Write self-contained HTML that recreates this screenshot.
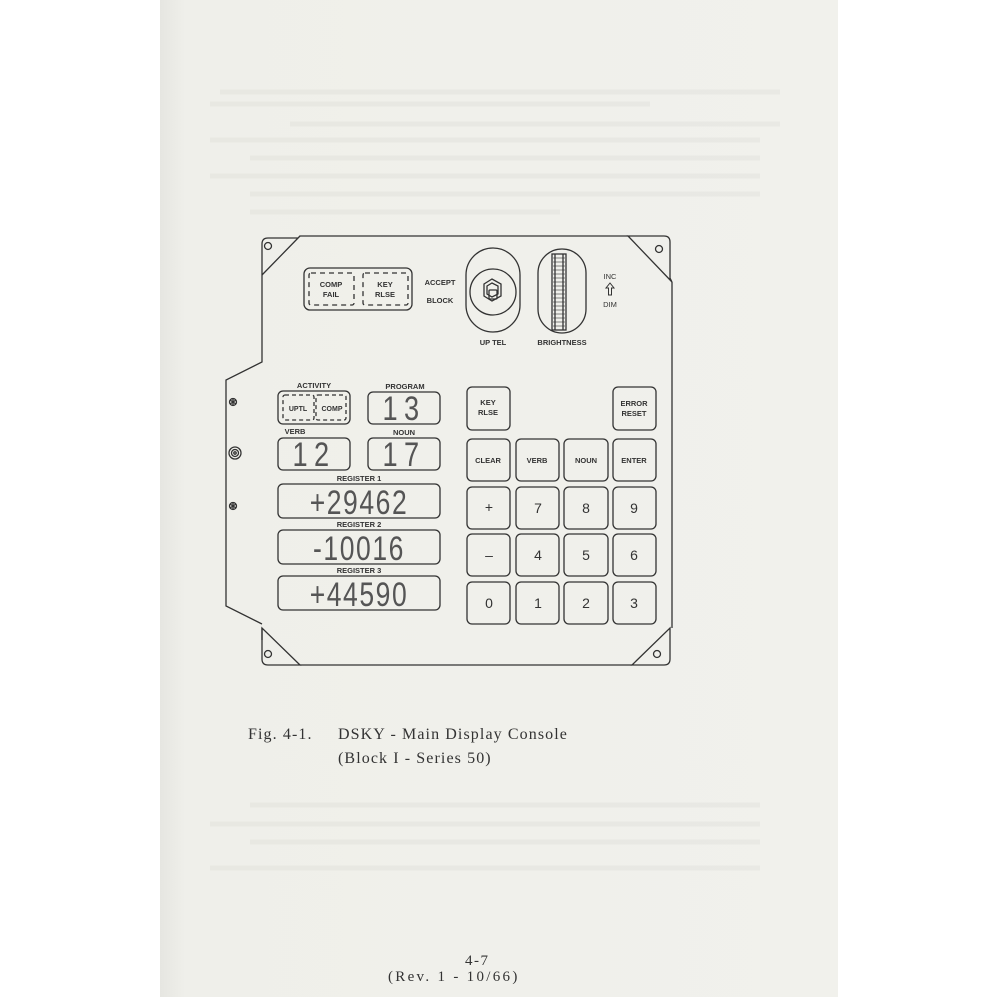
<!DOCTYPE html>
<html><head><meta charset="utf-8"><style>
html,body{margin:0;padding:0;background:#fff;}
body{width:1000px;height:1000px;position:relative;overflow:hidden;}
.paper{position:absolute;left:160px;top:0;width:678px;height:997px;background:linear-gradient(90deg,#e6e6e1 0px,#efefea 25px,#f1f1ec 100%);}
svg{position:absolute;left:0;top:0;}
.cap{position:absolute;font-family:"Liberation Serif",serif;font-size:16px;color:#333;white-space:pre;letter-spacing:1.1px;}
</style></head><body>
<div class="paper"></div>
<svg width="1000" height="1000" viewBox="0 0 1000 1000" font-family="Liberation Sans, sans-serif">
<g fill="none" stroke="#dcdcd6" stroke-width="5" opacity="0.35">
<line x1="220" y1="92" x2="780" y2="92"/><line x1="210" y1="104" x2="650" y2="104"/>
<line x1="290" y1="124" x2="780" y2="124"/><line x1="210" y1="140" x2="760" y2="140"/>
<line x1="250" y1="158" x2="760" y2="158"/><line x1="210" y1="176" x2="760" y2="176"/>
<line x1="250" y1="194" x2="760" y2="194"/><line x1="250" y1="212" x2="560" y2="212"/>
<line x1="250" y1="805" x2="760" y2="805"/><line x1="210" y1="824" x2="760" y2="824"/>
<line x1="250" y1="842" x2="760" y2="842"/><line x1="210" y1="868" x2="760" y2="868"/>
</g>
<g fill="none" stroke="#333" stroke-width="1.3">
<path d="M300,236 L628,236 M672,282 L672,628 M632,665 L300,665 M262,628 L262,640 M262,624 L226,606 L226,380 L262,362 L262,275"/>
<path d="M262,275 L262,244 Q262,238 268,238 L298,238 L300,236 L262,275"/>
<path d="M628,236 L664,236 Q670,236 670,242 L670,278 L672,282 Z"/>
<path d="M632,665 L664,665 Q670,665 670,659 L670,628 Z"/>
<path d="M300,665 L268,665 Q262,665 262,659 L262,628 Z"/>
<circle cx="268" cy="246" r="3.5"/><circle cx="659" cy="249" r="3.5"/>
<circle cx="657" cy="654" r="3.5"/><circle cx="268" cy="654" r="3.5"/>
<circle cx="233" cy="402" r="3.5"/><path d="M230,400 L236,404 M236,400 L230,404 M233,398 L233,406"/>
<circle cx="235" cy="453" r="6"/><circle cx="235" cy="453" r="3.5"/><circle cx="235" cy="453" r="1.2"/>
<circle cx="233" cy="506" r="3.5"/><path d="M230,504 L236,508 M236,504 L230,508 M233,502 L233,510"/>
<rect x="304" y="268" width="108" height="42" rx="6"/>
<rect x="309" y="273" width="45" height="32" rx="2" stroke-dasharray="5,4"/>
<rect x="363" y="273" width="45" height="32" rx="2" stroke-dasharray="5,4"/>
<rect x="466" y="248" width="54" height="84" rx="27"/>
<circle cx="493" cy="292" r="23"/>
<polygon points="484,284 492,279 501,284 501,296 492,301 484,296"/>
<polygon points="487,286 492,283 498,286 498,294 492,297 487,294"/>
<rect x="489" y="290" width="8" height="9" rx="1"/>
<rect x="538" y="249" width="48" height="84" rx="24"/>
<rect x="552" y="254" width="14" height="76"/>
<path d="M555,254 L555,330 M563,254 L563,330"/>
<path d="M610,283 L606,288 L608.5,288 L608.5,295 L611.5,295 L611.5,288 L614,288 Z" stroke-width="1"/>
<rect x="278" y="391" width="72" height="33" rx="5"/>
<rect x="283" y="395" width="31" height="25" rx="2" stroke-dasharray="4,3"/>
<rect x="316" y="395" width="30" height="25" rx="2" stroke-dasharray="4,3"/>
<rect x="368" y="392" width="72" height="32" rx="5"/>
<rect x="278" y="438" width="72" height="32" rx="5"/>
<rect x="368" y="438" width="72" height="32" rx="5"/>
<rect x="278" y="484" width="162" height="34" rx="5"/>
<rect x="278" y="530" width="162" height="34" rx="5"/>
<rect x="278" y="576" width="162" height="34" rx="5"/>
<rect x="467" y="387" width="43" height="43" rx="5"/>
<rect x="613" y="387" width="43" height="43" rx="5"/>
<g>
<rect x="467" y="439" width="43" height="42" rx="5"/><rect x="516" y="439" width="43" height="42" rx="5"/><rect x="564" y="439" width="44" height="42" rx="5"/><rect x="613" y="439" width="43" height="42" rx="5"/>
<rect x="467" y="487" width="43" height="42" rx="5"/><rect x="516" y="487" width="43" height="42" rx="5"/><rect x="564" y="487" width="44" height="42" rx="5"/><rect x="613" y="487" width="43" height="42" rx="5"/>
<rect x="467" y="534" width="43" height="42" rx="5"/><rect x="516" y="534" width="43" height="42" rx="5"/><rect x="564" y="534" width="44" height="42" rx="5"/><rect x="613" y="534" width="43" height="42" rx="5"/>
<rect x="467" y="582" width="43" height="42" rx="5"/><rect x="516" y="582" width="43" height="42" rx="5"/><rect x="564" y="582" width="44" height="42" rx="5"/><rect x="613" y="582" width="43" height="42" rx="5"/>
</g>
</g>
<g fill="#333" stroke="none">
<g stroke="#333" stroke-width="0.6">
<line x1="553" y1="258" x2="565" y2="258"/><line x1="553" y1="262" x2="565" y2="262"/><line x1="553" y1="266" x2="565" y2="266"/><line x1="553" y1="270" x2="565" y2="270"/><line x1="553" y1="274" x2="565" y2="274"/><line x1="553" y1="278" x2="565" y2="278"/><line x1="553" y1="282" x2="565" y2="282"/><line x1="553" y1="286" x2="565" y2="286"/><line x1="553" y1="290" x2="565" y2="290"/><line x1="553" y1="294" x2="565" y2="294"/><line x1="553" y1="298" x2="565" y2="298"/><line x1="553" y1="302" x2="565" y2="302"/><line x1="553" y1="306" x2="565" y2="306"/><line x1="553" y1="310" x2="565" y2="310"/><line x1="553" y1="314" x2="565" y2="314"/><line x1="553" y1="318" x2="565" y2="318"/><line x1="553" y1="322" x2="565" y2="322"/><line x1="553" y1="326" x2="565" y2="326"/>
</g>
<g font-size="7.5" font-weight="bold" text-anchor="middle">
<text x="331" y="287">COMP</text><text x="331" y="297">FAIL</text>
<text x="385" y="287">KEY</text><text x="385" y="297">RLSE</text>
<text x="440" y="285">ACCEPT</text><text x="440" y="303">BLOCK</text>
<text x="493" y="345">UP TEL</text><text x="562" y="345">BRIGHTNESS</text>
<text x="610" y="279" font-weight="normal">INC</text><text x="610" y="307" font-weight="normal">DIM</text>
<text x="314" y="388">ACTIVITY</text><text x="405" y="389">PROGRAM</text>
<text x="295" y="434">VERB</text><text x="404" y="435">NOUN</text>
<text x="359" y="481">REGISTER 1</text><text x="359" y="527">REGISTER 2</text>
<text x="359" y="573">REGISTER 3</text>
<text x="298" y="411" font-size="7">UPTL</text><text x="332" y="411" font-size="7">COMP</text>
<text x="488" y="405">KEY</text><text x="488" y="415">RLSE</text>
<text x="634" y="406">ERROR</text><text x="634" y="416">RESET</text>
<text x="488" y="463">CLEAR</text><text x="537" y="463">VERB</text><text x="586" y="463">NOUN</text><text x="634" y="463">ENTER</text>
</g>
<g font-size="14" text-anchor="middle">
<text x="489" y="512">+</text><text x="538" y="513">7</text><text x="586" y="513">8</text><text x="634" y="513">9</text>
<text x="489" y="560">–</text><text x="538" y="560">4</text><text x="586" y="560">5</text><text x="634" y="560">6</text>
<text x="489" y="608">0</text><text x="538" y="608">1</text><text x="586" y="608">2</text><text x="634" y="608">3</text>
</g>
<g font-size="34" fill="#555" text-anchor="middle" font-family="Liberation Sans, sans-serif">
<text x="404" y="420" transform="translate(404,0) scale(0.8,1) translate(-404,0)" letter-spacing="8">13</text>
<text x="314" y="466" transform="translate(314,0) scale(0.8,1) translate(-314,0)" letter-spacing="8">12</text>
<text x="404" y="466" transform="translate(404,0) scale(0.8,1) translate(-404,0)" letter-spacing="8">17</text>
<text x="359" y="514" transform="translate(359,0) scale(0.78,1) translate(-359,0)" letter-spacing="2">+29462</text>
<text x="359" y="560" transform="translate(359,0) scale(0.78,1) translate(-359,0)" letter-spacing="2">-10016</text>
<text x="359" y="606" transform="translate(359,0) scale(0.78,1) translate(-359,0)" letter-spacing="2">+44590</text>
</g>
</g>
</svg>
<div class="cap" style="left:248px;top:726px;">Fig. 4-1.</div>
<div class="cap" style="left:338px;top:726px;">DSKY - Main Display Console</div>
<div class="cap" style="left:338px;top:750px;">(Block I - Series 50)</div>
<div class="cap" style="left:465px;top:953px;font-size:15px;letter-spacing:1.5px;">4-7</div>
<div class="cap" style="left:388px;top:969px;font-size:15px;letter-spacing:2.3px;">(Rev. 1 - 10/66)</div>
</body></html>
